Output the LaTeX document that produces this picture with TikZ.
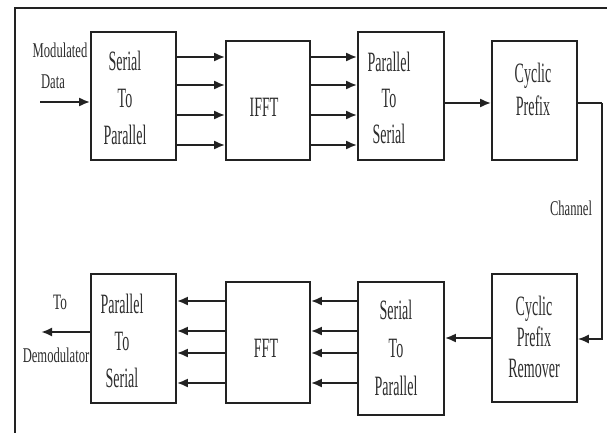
\documentclass[tikz,border=0pt]{standalone}
\usepackage{fontspec}
\usepackage{graphicx}
\setmainfont{Liberation Serif}
\usetikzlibrary{arrows.meta}
\newcommand{\sqz}[1]{\scalebox{0.5}[1]{#1}}
\newcommand{\sqo}[1]{\scalebox{0.6}[1]{#1}}
\definecolor{ink}{HTML}{222222}
\definecolor{txt}{HTML}{2E2E2E}
\tikzset{
  box/.style={draw=ink, line width=1.6pt, rectangle, inner sep=0pt, fill=white},
  blabel/.style={text=txt, align=center, inner sep=0pt, font=\fontsize{28}{37}\selectfont},
  olabel/.style={text=txt, align=center, inner sep=0pt, font=\fontsize{21}{24}\selectfont},
  arr/.style={draw=ink, line width=2.4pt, -{Latex[length=11pt,width=9pt]}},
  wire/.style={draw=ink, line width=1.8pt},
}
\begin{document}
\begin{tikzpicture}[x=1pt,y=-1pt]
\useasboundingbox (0,0) rectangle (607,433);
\fill[white] (0,0) rectangle (607,433);
% frame
\draw[ink, line width=2pt] (15,433) -- (15,8) -- (607,8);

% boxes top row
\node[box, minimum width=85, minimum height=128] (s2pt) at (133.5,96) {};
\node[box, minimum width=84, minimum height=119] (ifft) at (268,100.5) {};
\node[box, minimum width=86, minimum height=128] (p2st) at (401,96) {};
\node[box, minimum width=85, minimum height=119] (cp) at (534.5,100.5) {};
% boxes bottom row
\node[box, minimum width=85, minimum height=128] (cpr) at (534.5,338) {};
\node[box, minimum width=86, minimum height=133] (s2pb) at (401,348.5) {};
\node[box, minimum width=84, minimum height=121] (fft) at (268,342.5) {};
\node[box, minimum width=85, minimum height=129] (p2sb) at (133.5,338.5) {};

% labels in boxes
\node[blabel] (l1) at (125,98) {\sqz{Serial}\\\sqz{To}\\\sqz{Parallel}};
\node[blabel] (l2) at (264,107) {\sqz{IFFT}};
\node[blabel, font=\fontsize{28}{36}\selectfont] (l3) at (389,98) {\sqz{Parallel}\\\sqz{To}\\\sqz{Serial}};
\node[blabel, font=\fontsize{28}{33}\selectfont] (l4) at (533,89) {\sqz{Cyclic}\\\sqz{Prefix}};
\node[blabel, font=\fontsize{28}{31}\selectfont] (l5) at (534,337) {\sqz{Cyclic}\\\sqz{Prefix}\\\sqz{Remover}};
\node[blabel, font=\fontsize{28}{38}\selectfont] (l6) at (396,348) {\sqz{Serial}\\\sqz{To}\\\sqz{Parallel}};
\node[blabel] (l7) at (266,348) {\sqz{FFT}};
\node[blabel] (l8) at (122,341) {\sqz{Parallel}\\\sqz{To}\\\sqz{Serial}};

% outside labels
\node[olabel] (mod) at (60,50) {\sqo{Modulated}};
\node[olabel] (data) at (53,82) {\sqo{Data}};
\node[olabel, font=\fontsize{22}{24}\selectfont] (to) at (60,302) {\sqo{To}};
\node[olabel] (demod) at (56,355) {\sqo{Demodulator}};
\node[olabel] (chan) at (571,208) {\sqo{Channel}};

% free ends
\coordinate (min) at (40,102);
\coordinate (dout) at (41,332);
\coordinate (ch) at (602,103);

% connectors top
\draw[arr] (min) -- (s2pt.west |- min);
\foreach \yy in {57,85,115,145} {
  \draw[arr] (s2pt.east |- 0,\yy) -- (ifft.west |- 0,\yy);
  \draw[arr] (ifft.east |- 0,\yy) -- (p2st.west |- 0,\yy);
}
\draw[arr] (p2st.east |- 0,103) -- (cp.west |- 0,103);
\draw[wire] (cp.east |- ch) -- (ch);
\draw[arr, line width=1.8pt] (ch) |- (cpr.east |- 0,339);

% connectors bottom
\draw[arr] (cpr.west |- 0,338) -- (s2pb.east |- 0,338);
\foreach \yy in {301,331,353,383} {
  \draw[arr] (s2pb.west |- 0,\yy) -- (fft.east |- 0,\yy);
  \draw[arr] (fft.west |- 0,\yy) -- (p2sb.east |- 0,\yy);
}
\draw[arr] (p2sb.west |- dout) -- (dout);
\end{tikzpicture}
\end{document}
